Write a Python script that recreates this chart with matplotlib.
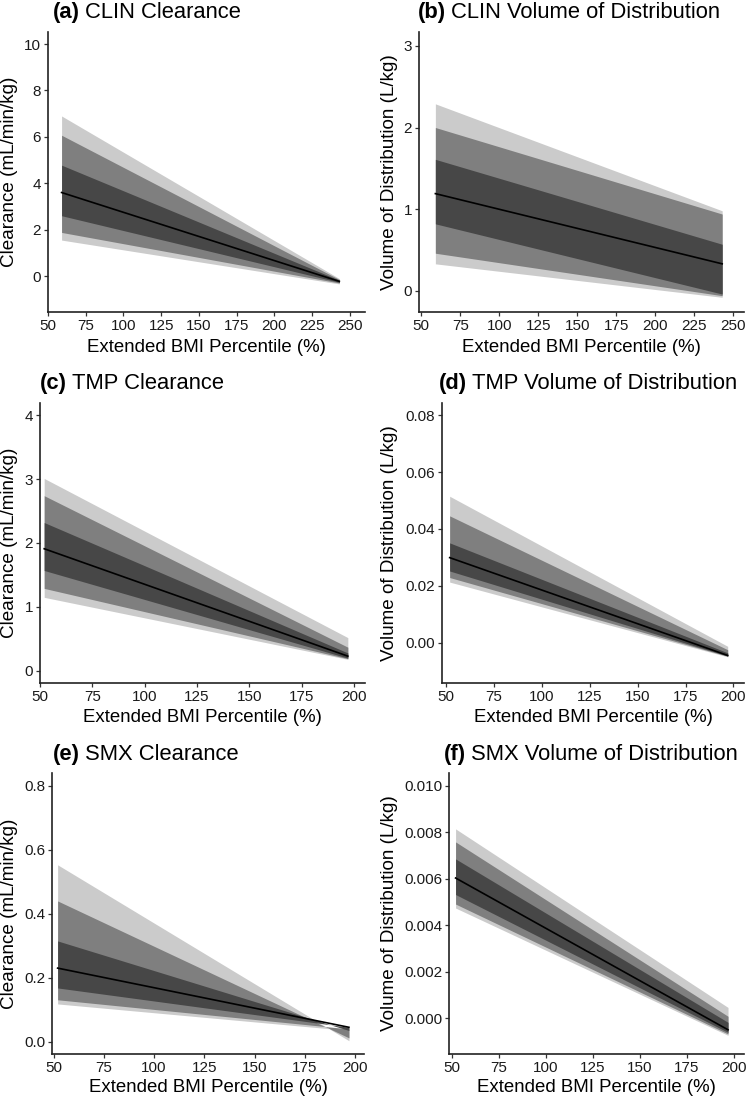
import matplotlib
matplotlib.use("Agg")
from matplotlib import pyplot as plt

plt.rcParams['font.family'] = ['Liberation Sans', 'DejaVu Sans']

# BMI percentile range of the simulated lines
bmi_clin = [59, 243]
bmi_tmp_smx = [52, 197]

# quantiles at the two ends: 5%, 10%, 25%, median, 75%, 90%, 95%
clin_cl_start = [1.55, 1.88, 2.6, 3.6, 4.78, 6.07, 6.9]
clin_cl_end = [-0.34, -0.3, -0.27, -0.23, -0.18, -0.15, -0.11]
clin_vd_start = [0.33, 0.46, 0.82, 1.19, 1.61, 2.0, 2.29]
clin_vd_end = [-0.08, -0.06, -0.04, 0.33, 0.57, 0.94, 0.98]
tmp_cl_start = [1.15, 1.29, 1.57, 1.91, 2.32, 2.74, 3.01]
tmp_cl_end = [0.18, 0.19, 0.2, 0.23, 0.28, 0.37, 0.52]
tmp_vd_start = [0.0213, 0.0229, 0.0252, 0.0299, 0.0351, 0.0446, 0.0515]
tmp_vd_end = [-0.005, -0.0048, -0.0047, -0.0045, -0.0036, -0.0025, -0.0013]
smx_cl_start = [0.118, 0.131, 0.168, 0.23, 0.315, 0.44, 0.553]
smx_cl_end = [0.035, 0.04, 0.045, 0.045, 0.035, 0.012, 0.003]
smx_vd_start = [0.00474, 0.00491, 0.00532, 0.00603, 0.00685, 0.00758, 0.00814]
smx_vd_end = [-0.00073, -0.00067, -0.0006, -0.00049, -0.00017, 0.00009, 0.00047]

titles = ["CLIN Clearance", "CLIN Volume of Distribution",
          "TMP Clearance", "TMP Volume of Distribution",
          "SMX Clearance", "SMX Volume of Distribution"]
letters = ["(a)", "(b)", "(c)", "(d)", "(e)", "(f)"]
cl_label = "Clearance (mL/min/kg)"
vd_label = "Volume of Distribution (L/kg)"
x_label = "Extended BMI Percentile (%)"

W, H = 749, 1101
fig = plt.figure(figsize=(W / 100, H / 100), dpi=100)

# (left, right, top, bottom) of each panel in pixels
boxes = [(48, 365, 32, 312), (419, 744, 32, 312),
         (40, 365, 403, 683), (442, 744, 403, 683),
         (52, 364, 773, 1054), (449, 744, 773, 1054)]
title_pos = [(53, 18), (418, 18), (40, 389), (439, 389), (53, 760), (444, 760)]
ylab_x = [10, 389, 10, 390, 10, 389]
xlab_y = [347, 347, 718, 718, 1087, 1087]

panels = [
    (bmi_clin, clin_cl_start, clin_cl_end, (-1.55, 10.52), [0, 2, 4, 6, 8, 10], "%d", cl_label, (50.5, 260), range(50, 251, 25)),
    (bmi_clin, clin_vd_start, clin_vd_end, (-0.26, 3.17), [0, 1, 2, 3], "%d", vd_label, (48.5, 257), range(50, 251, 25)),
    (bmi_tmp_smx, tmp_cl_start, tmp_cl_end, (-0.19, 4.19), [0, 1, 2, 3, 4], "%d", cl_label, (50.4, 205.2), range(50, 201, 25)),
    (bmi_tmp_smx, tmp_vd_start, tmp_vd_end, (-0.0142, 0.0843), [0, 0.02, 0.04, 0.06, 0.08], "%.2f", vd_label, (48, 205.5), range(50, 201, 25)),
    (bmi_tmp_smx, smx_cl_start, smx_cl_end, (-0.0385, 0.84), [0, 0.2, 0.4, 0.6, 0.8], "%.1f", cl_label, (49.2, 204.5), range(50, 201, 25)),
    (bmi_tmp_smx, smx_vd_start, smx_vd_end, (-0.00153, 0.01054), [0, 0.002, 0.004, 0.006, 0.008, 0.010], "%.3f", vd_label, (48.5, 205.5), range(50, 201, 25)),
]

band_colors = ["#cbcbcb", "#7f7f7f", "#474747"]

for i, (x, q0, q1, ylim, yt, fmt, ylab, xlim, xt) in enumerate(panels):
    l, r, t, b = boxes[i]
    ax = fig.add_axes([l / W, 1 - b / H, (r - l) / W, (b - t) / H])
    for k in range(3):
        lo = [q0[k], q1[k]]
        hi = [q0[6 - k], q1[6 - k]]
        ax.fill_between(x, lo, hi, color=band_colors[k], lw=0)
    ax.plot(x, [q0[3], q1[3]], color="black", lw=1.2)

    ax.set_xlim(*xlim)
    ax.set_ylim(*ylim)
    ax.set_xticks(list(xt))
    ax.set_yticks(yt)
    ax.set_yticklabels([fmt % v for v in yt])
    for s in ["top", "right"]:
        ax.spines[s].set_visible(False)
    for s in ["left", "bottom"]:
        ax.spines[s].set_linewidth(1.2)
        ax.spines[s].set_color("#222222")
    ax.tick_params(labelsize=11, length=3, width=0.9, color="#333333",
                   labelcolor="#1a1a1a", pad=2)

    ax.set_ylabel(ylab, fontsize=13.6, color="black")
    ax.yaxis.set_label_coords((ylab_x[i] - l) / (r - l), 0.5)
    ax.set_xlabel(x_label, fontsize=13.4, color="black")
    ax.xaxis.set_label_coords(0.5, (b - xlab_y[i]) / (b - t))
    ax.xaxis.label.set_va("center")
    ax.yaxis.label.set_va("center")

    tx, ty = title_pos[i]
    tl = fig.text(tx / W, 1 - ty / H, letters[i], fontsize=15.8,
                  fontweight="bold", ha="left", va="baseline")
    fig.canvas.draw()
    bb = tl.get_window_extent()
    fig.text((bb.x1 + 5) / W, 1 - ty / H, titles[i], fontsize=15.8,
             ha="left", va="baseline")

fig.savefig("out.png", dpi=100, facecolor="white")
